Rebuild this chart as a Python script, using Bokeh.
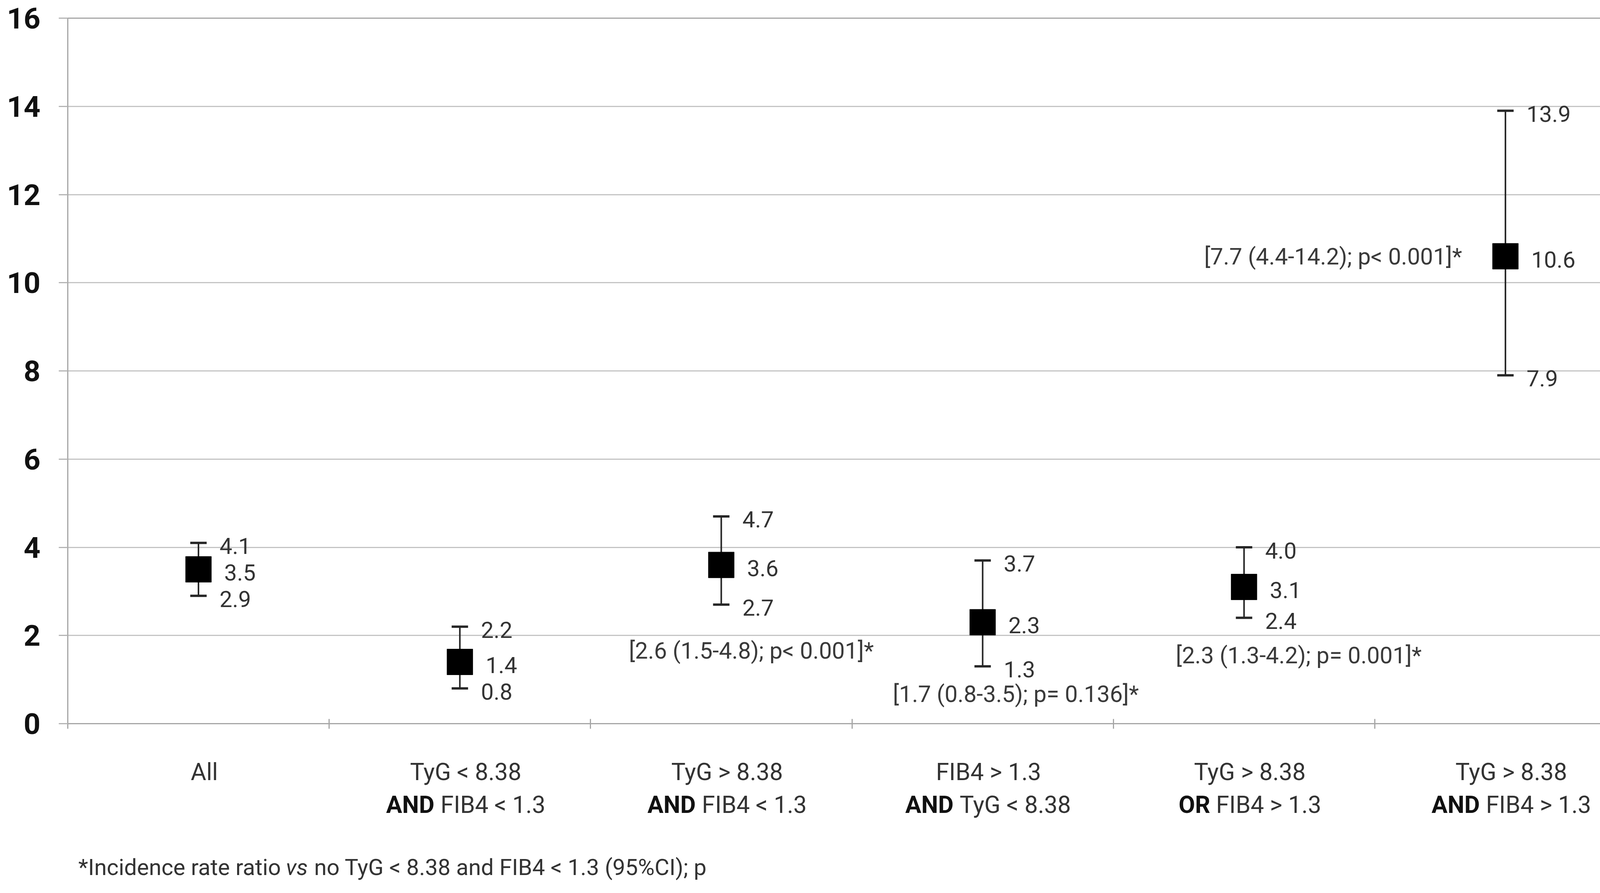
from bokeh.plotting import figure
from bokeh.models import Range1d, FixedTicker, Label, ColumnDataSource
from bokeh.layouts import column
from bokeh.embed import file_html
from bokeh.resources import INLINE
from bokeh.core.properties import value

# ---------------- data ----------------
cat_line1 = ["All", "TyG < 8.38", "TyG > 8.38", "FIB4 > 1.3", "TyG > 8.38", "TyG > 8.38"]
cat_line2_bold = ["", "AND", "AND", "AND", "OR", "AND"]
cat_line2_rest = ["", "FIB4 < 1.3", "FIB4 < 1.3", "TyG < 8.38", "FIB4 > 1.3", "FIB4 > 1.3"]

estimate = [3.5, 1.4, 3.6, 2.3, 3.1, 10.6]
lower = [2.9, 0.8, 2.7, 1.3, 2.4, 7.9]
upper = [4.1, 2.2, 4.7, 3.7, 4.0, 13.9]

irr_text = ["", "",
            "[2.6 (1.5-4.8); p< 0.001]*",
            "[1.7 (0.8-3.5); p= 0.136]*",
            "[2.3 (1.3-4.2); p= 0.001]*",
            "[7.7 (4.4-14.2); p< 0.001]*"]

y_ticks = [0, 2, 4, 6, 8, 10, 12, 14, 16]

foot_a = "*Incidence rate ratio"
foot_vs = "vs"
foot_b = "no TyG < 8.38 and FIB4 < 1.3 (95%CI); p"

# ---------------- layout / style ----------------
FONT = "Roboto"
W = 4197
H_MAIN = 1912
H_LAB = 358
xc = [i + 0.5 for i in range(len(estimate))]

# annotation placement (layout, not data)
irr_y = [None, None, 1.66, 0.67, 1.55, 10.6]
irr_dx = [0, 0, 77, 85, 140, -111]
irr_align = ["center", "center", "center", "center", "center", "right"]

RW = {' ': .248, '%': .715, '(': .341, ')': .348, '*': .43, '.': .263, ';': .238, '<': .508,
      '>': .522, '=': .549, '-': .276, '[': .266, ']': .266, 'A': .652, 'B': .623, 'C': .652,
      'D': .658, 'F': .554, 'G': .682, 'I': .272, 'N': .714, 'O': .677, 'R': .616, 'T': .598,
      'a': .544, 'c': .52, 'd': .548, 'e': .529, 'i': .242, 'l': .242, 'n': .54, 'o': .557,
      'p': .547, 'r': .338, 's': .516, 't': .327, 'v': .484, 'y': .473}
for d in "0123456789":
    RW[d] = .5615
BW = dict(RW)
BW.update({'A': .67, 'N': .71, 'D': .655, 'O': .69, 'R': .635})


def tw(s, size, table=RW):
    return sum(table.get(c, 0.55) for c in s) * size


x_range = Range1d(0, 6)

p = figure(width=W, height=H_MAIN, x_range=x_range, y_range=Range1d(0, 16),
           output_backend="svg", toolbar_location=None,
           min_border_left=173, min_border_right=9, min_border_top=46, min_border_bottom=60)
p.background_fill_color = "white"
p.border_fill_color = "white"
p.outline_line_color = "#a6a6a6"
p.outline_line_width = 3

# grid
p.xgrid.visible = False
p.ygrid.ticker = FixedTicker(ticks=y_ticks)
p.ygrid.grid_line_color = "#c4c4c4"
p.ygrid.grid_line_width = 3

# y axis
p.yaxis.ticker = FixedTicker(ticks=y_ticks)
p.yaxis.axis_line_color = "#a6a6a6"
p.yaxis.axis_line_width = 3
p.yaxis.major_tick_line_color = "#b4b4b4"
p.yaxis.major_tick_line_width = 3
p.yaxis.major_tick_out = 23
p.yaxis.major_tick_in = 0
p.yaxis.minor_tick_line_color = None
p.yaxis.major_label_standoff = 47
p.yaxis.major_label_text_font = FONT
p.yaxis.major_label_text_font_style = "bold"
p.yaxis.major_label_text_font_size = "75px"
p.yaxis.major_label_text_color = "#111111"

# x axis: ticks at category boundaries, labels drawn in the panel below
p.xaxis.ticker = FixedTicker(ticks=[0, 1, 2, 3, 4, 5, 6])
p.xaxis.axis_line_color = "#a6a6a6"
p.xaxis.axis_line_width = 3
p.xaxis.major_tick_line_color = "#a6a6a6"
p.xaxis.major_tick_line_width = 3
p.xaxis.major_tick_in = 12
p.xaxis.major_tick_out = 13
p.xaxis.minor_tick_line_color = None
p.xaxis.major_label_text_color = None
p.xaxis.major_label_text_font_size = "1px"

src = ColumnDataSource(dict(
    x=xc, est=estimate, lo=lower, hi=upper,
    est_t=[f"{v:.1f}" for v in estimate],
    lo_t=[f"{v:.1f}" for v in lower],
    hi_t=[f"{v:.1f}" for v in upper],
))

BAR = "#262626"
p.segment(x0="x", y0="lo", x1="x", y1="hi", source=src, line_color=BAR, line_width=4)
p.scatter(x="x", y="hi", source=src, marker="dash", size=42, line_color=BAR, line_width=6)
p.scatter(x="x", y="lo", source=src, marker="dash", size=42, line_color=BAR, line_width=6)
p.scatter(x="x", y="est", source=src, marker="square", size=66,
          fill_color="black", line_color="black")

VAL_SIZE = "58px"
for col, t, dx in [("hi", "hi_t", 54), ("est", "est_t", 66), ("lo", "lo_t", 54)]:
    p.text(x="x", y=col, text=t, source=src, x_offset=dx, y_offset=8,
           text_align="left", text_baseline="middle",
           text_font=value(FONT), text_font_size=VAL_SIZE, text_color="#333333")

# IRR annotations
for i, t in enumerate(irr_text):
    if not t:
        continue
    p.add_layout(Label(x=xc[i], y=irr_y[i], text=t, x_offset=irr_dx[i], y_offset=0,
                       text_align=irr_align[i], text_baseline="middle",
                       text_font=FONT, text_font_size="59px", text_color="#3a3a3a"))

# ---------------- label panel below the axis ----------------
q = figure(width=W, height=H_LAB, x_range=x_range, y_range=Range1d(0, H_LAB),
           output_backend="svg", toolbar_location=None,
           x_axis_location=None, y_axis_location=None,
           min_border_left=173, min_border_right=9, min_border_top=0, min_border_bottom=0)
q.outline_line_color = None
q.grid.visible = False
q.background_fill_color = "white"
q.border_fill_color = "white"

CAT = 61
Y_L1, Y_L2, Y_FN = 295, 211, 51
CAT_DX = 15

q.text(x=xc, y=[Y_L1] * len(xc), text=cat_line1, x_offset=CAT_DX,
       text_align="center", text_baseline="alphabetic",
       text_font=value(FONT), text_font_size=f"{CAT}px", text_color="#333333")

bx, bt, bo, rx, rt, ro = [], [], [], [], [], []
for i in range(len(cat_line1)):
    if not cat_line2_bold[i]:
        continue
    wb = tw(cat_line2_bold[i], CAT, BW)
    ws = tw(" ", CAT)
    wr = tw(cat_line2_rest[i], CAT)
    left = CAT_DX - (wb + ws + wr) / 2
    bx.append(xc[i]); bt.append(cat_line2_bold[i]); bo.append(left)
    rx.append(xc[i]); rt.append(cat_line2_rest[i]); ro.append(left + wb + ws)

q.text(x=bx, y=[Y_L2] * len(bx), text=bt, x_offset=bo,
       text_align="left", text_baseline="alphabetic", text_font_style="bold",
       text_font=value(FONT), text_font_size=f"{CAT}px", text_color="#111111")
q.text(x=rx, y=[Y_L2] * len(rx), text=rt, x_offset=ro,
       text_align="left", text_baseline="alphabetic",
       text_font=value(FONT), text_font_size=f"{CAT}px", text_color="#333333")

# footnote
FN = 58
fx1 = 27
fx2 = fx1 + tw(foot_a + " ", FN)
fx3 = fx2 + tw(foot_vs + " ", FN)
q.text(x=[0, 0], y=[Y_FN, Y_FN], text=[foot_a, foot_b], x_offset=[fx1, fx3],
       text_align="left", text_baseline="alphabetic",
       text_font=value(FONT), text_font_size=f"{FN}px", text_color="#333333")
q.text(x=[0], y=[Y_FN], text=[foot_vs], x_offset=[fx2],
       text_align="left", text_baseline="alphabetic", text_font_style="italic",
       text_font=value(FONT), text_font_size=f"{FN}px", text_color="#333333")

layout = column(p, q, spacing=0)
open("out.html", "w").write(file_html(layout, INLINE))
